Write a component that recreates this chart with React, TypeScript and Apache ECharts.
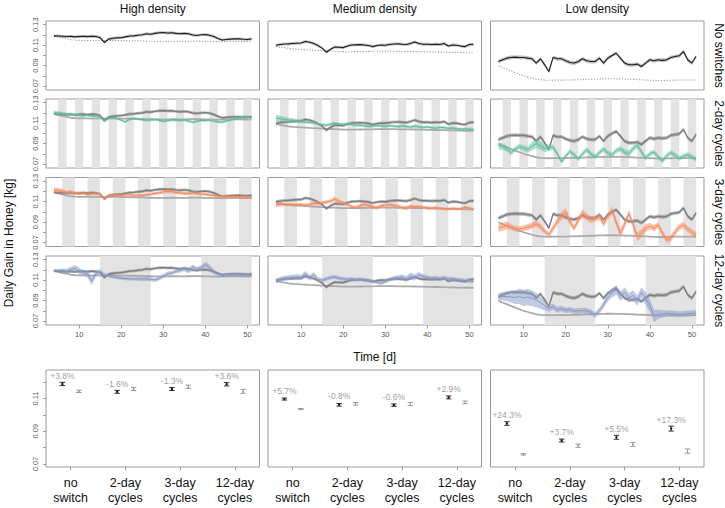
import React, { useEffect, useRef } from "react";
import * as echarts from "echarts";

const FONT = "'Liberation Sans', Arial, Helvetica, sans-serif";

const days = [4, 5, 6, 7, 8, 9, 10, 11, 12, 13, 14, 15, 16, 17, 18, 19, 20, 21, 22, 23, 24, 25, 26, 27,
  28, 29, 30, 31, 32, 33, 34, 35, 36, 37, 38, 39, 40, 41, 42, 43, 44, 45, 46, 47, 48, 49, 50, 51];

const densities = ["High density", "Medium density", "Low density"];
const rowLabels = ["No switches", "2-day cycles", "3-day cycles", "12-day cycles"];
const treatments = ["no\nswitch", "2-day\ncycles", "3-day\ncycles", "12-day\ncycles"];
const xTicks = [10, 20, 30, 40, 50];
const yTicks = [0.07, 0.08, 0.09, 0.1, 0.11, 0.12, 0.13];
const yTickLabels = [0.07, 0.09, 0.11, 0.13];
const sumYTicks = [0.07, 0.08, 0.09, 0.1, 0.11, 0.12];
const sumYTickLabels = [0.07, 0.09, 0.11];

// regime periods (grey stripes), in days
const stripes2 = [[5, 7], [9, 11], [13, 15], [17, 19], [21, 23], [25, 27], [29, 31], [33, 35], [37, 39], [41, 43], [45, 47], [49, 51]];
const stripes3 = [[6, 9], [12, 15], [18, 21], [24, 27], [30, 33], [36, 39], [42, 45], [48, 51]];
const stripes12 = [[15, 27], [39, 51]];

// ---------- High density ----------
const N_high = [
  0.1190, 0.1188, 0.1186, 0.1183, 0.1185, 0.1180, 0.1184, 0.1186,
  0.1182, 0.1186, 0.1184, 0.1172, 0.1125, 0.1158, 0.1166, 0.1170,
  0.1172, 0.1180, 0.1188, 0.1190, 0.1196, 0.1200, 0.1210, 0.1206,
  0.1214, 0.1220, 0.1222, 0.1218, 0.1220, 0.1214, 0.1210, 0.1214,
  0.1210, 0.1198, 0.1194, 0.1200, 0.1202, 0.1196, 0.1184, 0.1165,
  0.1150, 0.1155, 0.1158, 0.1160, 0.1160, 0.1157, 0.1155, 0.1160];
const C_high = [
  0.1192, 0.1180, 0.1170, 0.1160, 0.1152, 0.1148, 0.1146, 0.1145,
  0.1145, 0.1144, 0.1145, 0.1145, 0.1144, 0.1145, 0.1146, 0.1145,
  0.1144, 0.1143, 0.1142, 0.1142, 0.1141, 0.1140, 0.1138, 0.1137,
  0.1136, 0.1136, 0.1135, 0.1136, 0.1137, 0.1137, 0.1136, 0.1136,
  0.1137, 0.1138, 0.1138, 0.1137, 0.1136, 0.1135, 0.1134, 0.1133,
  0.1134, 0.1134, 0.1135, 0.1136, 0.1135, 0.1134, 0.1134, 0.1135];
const G_high = [
  0.1200, 0.1196, 0.1192, 0.1185, 0.1188, 0.1180, 0.1178, 0.1170,
  0.1175, 0.1168, 0.1172, 0.1160, 0.1118, 0.1145, 0.1150, 0.1145,
  0.1128, 0.1112, 0.1138, 0.1145, 0.1140, 0.1132, 0.1128, 0.1130,
  0.1135, 0.1128, 0.1118, 0.1122, 0.1130, 0.1128, 0.1125, 0.1130,
  0.1120, 0.1108, 0.1118, 0.1125, 0.1125, 0.1128, 0.1120, 0.1112,
  0.1108, 0.1120, 0.1130, 0.1140, 0.1150, 0.1158, 0.1162, 0.1155];
const O_high = [
  0.1215, 0.1210, 0.1205, 0.1190, 0.1195, 0.1185, 0.1175, 0.1180,
  0.1168, 0.1175, 0.1178, 0.1170, 0.1135, 0.1158, 0.1165, 0.1162,
  0.1155, 0.1165, 0.1168, 0.1160, 0.1162, 0.1158, 0.1165, 0.1172,
  0.1178, 0.1185, 0.1195, 0.1200, 0.1198, 0.1190, 0.1185, 0.1180,
  0.1178, 0.1185, 0.1180, 0.1172, 0.1170, 0.1165, 0.1160, 0.1150,
  0.1148, 0.1152, 0.1145, 0.1148, 0.1142, 0.1145, 0.1140, 0.1138];
const B_high = [
  0.1195, 0.1192, 0.1195, 0.1185, 0.1200, 0.1215, 0.1190, 0.1170,
  0.1160, 0.1090, 0.1165, 0.1185, 0.1150, 0.1140, 0.1130, 0.1125,
  0.1118, 0.1115, 0.1112, 0.1110, 0.1112, 0.1110, 0.1112, 0.1108,
  0.1100, 0.1115, 0.1140, 0.1160, 0.1170, 0.1185, 0.1195, 0.1210,
  0.1190, 0.1225, 0.1205, 0.1220, 0.1250, 0.1225, 0.1180, 0.1155,
  0.1150, 0.1152, 0.1148, 0.1152, 0.1150, 0.1148, 0.1150, 0.1148];
const G_high_ci = [
  0.0022, 0.0020, 0.0018, 0.0016, 0.0015, 0.0014, 0.0013, 0.0013,
  0.0012, 0.0012, 0.0012, 0.0012, 0.0014, 0.0012, 0.0012, 0.0012,
  0.0012, 0.0013, 0.0012, 0.0012, 0.0012, 0.0012, 0.0012, 0.0012,
  0.0012, 0.0012, 0.0013, 0.0012, 0.0012, 0.0012, 0.0012, 0.0012,
  0.0012, 0.0013, 0.0012, 0.0012, 0.0012, 0.0012, 0.0012, 0.0013,
  0.0012, 0.0012, 0.0013, 0.0013, 0.0014, 0.0015, 0.0015, 0.0014];
const O_high_ci = [
  0.0025, 0.0022, 0.0020, 0.0018, 0.0016, 0.0015, 0.0015, 0.0014,
  0.0014, 0.0014, 0.0014, 0.0014, 0.0015, 0.0014, 0.0014, 0.0014,
  0.0014, 0.0014, 0.0014, 0.0014, 0.0014, 0.0014, 0.0014, 0.0014,
  0.0015, 0.0016, 0.0018, 0.0018, 0.0017, 0.0016, 0.0015, 0.0015,
  0.0015, 0.0016, 0.0015, 0.0015, 0.0015, 0.0014, 0.0014, 0.0014,
  0.0014, 0.0014, 0.0014, 0.0014, 0.0014, 0.0015, 0.0015, 0.0015];
const B_high_ci = [
  0.0012, 0.0014, 0.0018, 0.0025, 0.0030, 0.0032, 0.0030, 0.0028,
  0.0035, 0.0040, 0.0030, 0.0022, 0.0018, 0.0016, 0.0016, 0.0016,
  0.0016, 0.0016, 0.0016, 0.0016, 0.0018, 0.0020, 0.0020, 0.0020,
  0.0020, 0.0020, 0.0022, 0.0022, 0.0020, 0.0020, 0.0022, 0.0024,
  0.0026, 0.0028, 0.0026, 0.0024, 0.0030, 0.0026, 0.0020, 0.0016,
  0.0016, 0.0016, 0.0016, 0.0016, 0.0016, 0.0016, 0.0016, 0.0016];

// ---------- Medium density ----------
const N_med = [
  0.1098, 0.1105, 0.1110, 0.1112, 0.1115, 0.1118, 0.1120, 0.1135,
  0.1128, 0.1115, 0.1095, 0.1070, 0.1030, 0.1060, 0.1080, 0.1078,
  0.1075, 0.1090, 0.1100, 0.1102, 0.1104, 0.1100, 0.1096, 0.1085,
  0.1095, 0.1100, 0.1098, 0.1105, 0.1110, 0.1112, 0.1108, 0.1105,
  0.1115, 0.1130, 0.1115, 0.1108, 0.1108, 0.1105, 0.1108, 0.1106,
  0.1115, 0.1090, 0.1100, 0.1098, 0.1090, 0.1085, 0.1105, 0.1108];
const C_med = [
  0.1090, 0.1082, 0.1075, 0.1068, 0.1063, 0.1060, 0.1057, 0.1055,
  0.1052, 0.1050, 0.1048, 0.1045, 0.1044, 0.1042, 0.1040, 0.1038,
  0.1036, 0.1035, 0.1035, 0.1036, 0.1037, 0.1038, 0.1038, 0.1039,
  0.1040, 0.1040, 0.1041, 0.1040, 0.1040, 0.1039, 0.1039, 0.1038,
  0.1038, 0.1037, 0.1036, 0.1035, 0.1034, 0.1033, 0.1032, 0.1031,
  0.1030, 0.1029, 0.1028, 0.1027, 0.1026, 0.1025, 0.1025, 0.1024];
const G_med = [
  0.1150, 0.1142, 0.1135, 0.1130, 0.1128, 0.1120, 0.1115, 0.1110,
  0.1108, 0.1100, 0.1090, 0.1085, 0.1078, 0.1090, 0.1098, 0.1092,
  0.1085, 0.1095, 0.1088, 0.1078, 0.1080, 0.1072, 0.1068, 0.1070,
  0.1075, 0.1072, 0.1068, 0.1075, 0.1070, 0.1065, 0.1072, 0.1068,
  0.1060, 0.1070, 0.1062, 0.1058, 0.1062, 0.1055, 0.1050, 0.1058,
  0.1055, 0.1048, 0.1052, 0.1045, 0.1040, 0.1045, 0.1038, 0.1040];
const O_med = [
  0.1068, 0.1075, 0.1070, 0.1072, 0.1068, 0.1070, 0.1072, 0.1066,
  0.1070, 0.1085, 0.1080, 0.1090, 0.1095, 0.1105, 0.1125, 0.1100,
  0.1085, 0.1070, 0.1050, 0.1042, 0.1060, 0.1070, 0.1062, 0.1048,
  0.1040, 0.1058, 0.1065, 0.1068, 0.1062, 0.1055, 0.1040, 0.1035,
  0.1055, 0.1048, 0.1050, 0.1045, 0.1038, 0.1035, 0.1040, 0.1032,
  0.1030, 0.1028, 0.1032, 0.1028, 0.1030, 0.1045, 0.1035, 0.1025];
const B_med = [
  0.1088, 0.1108, 0.1118, 0.1125, 0.1128, 0.1130, 0.1125, 0.1160,
  0.1120, 0.1150, 0.1105, 0.1098, 0.1110, 0.1125, 0.1130, 0.1118,
  0.1110, 0.1108, 0.1112, 0.1105, 0.1110, 0.1100, 0.1095, 0.1090,
  0.1078, 0.1070, 0.1085, 0.1105, 0.1120, 0.1125, 0.1130, 0.1110,
  0.1140, 0.1125, 0.1150, 0.1135, 0.1125, 0.1118, 0.1120, 0.1115,
  0.1122, 0.1112, 0.1110, 0.1105, 0.1100, 0.1095, 0.1092, 0.1088];
const G_med_ci = [
  0.0032, 0.0030, 0.0026, 0.0022, 0.0020, 0.0018, 0.0016, 0.0015,
  0.0015, 0.0014, 0.0014, 0.0014, 0.0014, 0.0014, 0.0014, 0.0014,
  0.0014, 0.0014, 0.0014, 0.0013, 0.0013, 0.0013, 0.0013, 0.0013,
  0.0013, 0.0013, 0.0013, 0.0013, 0.0013, 0.0013, 0.0013, 0.0013,
  0.0013, 0.0013, 0.0013, 0.0013, 0.0013, 0.0013, 0.0013, 0.0014,
  0.0014, 0.0014, 0.0014, 0.0014, 0.0014, 0.0015, 0.0015, 0.0015];
const O_med_ci = [
  0.0025, 0.0020, 0.0018, 0.0016, 0.0015, 0.0015, 0.0015, 0.0015,
  0.0016, 0.0018, 0.0018, 0.0016, 0.0016, 0.0018, 0.0025, 0.0022,
  0.0018, 0.0016, 0.0016, 0.0016, 0.0018, 0.0016, 0.0016, 0.0018,
  0.0020, 0.0018, 0.0016, 0.0016, 0.0016, 0.0016, 0.0018, 0.0022,
  0.0018, 0.0016, 0.0016, 0.0015, 0.0015, 0.0015, 0.0015, 0.0015,
  0.0015, 0.0015, 0.0015, 0.0015, 0.0015, 0.0015, 0.0015, 0.0015];
const B_med_ci = [
  0.0020, 0.0022, 0.0024, 0.0025, 0.0025, 0.0026, 0.0026, 0.0028,
  0.0026, 0.0028, 0.0024, 0.0022, 0.0020, 0.0020, 0.0020, 0.0020,
  0.0020, 0.0018, 0.0018, 0.0018, 0.0018, 0.0018, 0.0018, 0.0018,
  0.0018, 0.0018, 0.0018, 0.0020, 0.0020, 0.0022, 0.0024, 0.0030,
  0.0035, 0.0030, 0.0028, 0.0025, 0.0022, 0.0020, 0.0020, 0.0020,
  0.0020, 0.0020, 0.0020, 0.0020, 0.0020, 0.0020, 0.0020, 0.0020];

// ---------- Low density ----------
const N_low = [
  0.0939, 0.0956, 0.0972, 0.0979, 0.0982, 0.0979, 0.0979, 0.0972,
  0.0966, 0.0924, 0.0966, 0.0907, 0.0842, 0.0979, 0.0966, 0.0966,
  0.0946, 0.0930, 0.0924, 0.0939, 0.0966, 0.0946, 0.0939, 0.0939,
  0.0972, 0.0924, 0.0972, 0.0998, 0.1020, 0.0972, 0.0924, 0.0907,
  0.0907, 0.0914, 0.0891, 0.0924, 0.0956, 0.0946, 0.0956, 0.0950,
  0.0956, 0.0979, 0.0988, 0.0995, 0.1037, 0.0956, 0.0924, 0.0988];
const C_low = [
  0.0898, 0.0880, 0.0865, 0.0848, 0.0830, 0.0815, 0.0800, 0.0788,
  0.0776, 0.0766, 0.0760, 0.0757, 0.0756, 0.0757, 0.0758, 0.0757,
  0.0758, 0.0759, 0.0760, 0.0761, 0.0762, 0.0764, 0.0766, 0.0768,
  0.0769, 0.0770, 0.0771, 0.0771, 0.0770, 0.0769, 0.0768, 0.0767,
  0.0765, 0.0763, 0.0761, 0.0759, 0.0757, 0.0755, 0.0754, 0.0754,
  0.0755, 0.0756, 0.0757, 0.0758, 0.0758, 0.0758, 0.0758, 0.0758];
const G_low = [
  0.0880, 0.0868, 0.0850, 0.0810, 0.0845, 0.0870, 0.0855, 0.0840,
  0.0875, 0.0900, 0.0880, 0.0850, 0.0860, 0.0865, 0.0800, 0.0722,
  0.0775, 0.0825, 0.0790, 0.0748, 0.0800, 0.0838, 0.0800, 0.0770,
  0.0812, 0.0845, 0.0810, 0.0788, 0.0830, 0.0848, 0.0815, 0.0800,
  0.0850, 0.0885, 0.0820, 0.0758, 0.0800, 0.0818, 0.0770, 0.0728,
  0.0780, 0.0812, 0.0785, 0.0755, 0.0775, 0.0790, 0.0768, 0.0745];
const O_low = [
  0.0840, 0.0855, 0.0865, 0.0850, 0.0835, 0.0830, 0.0840, 0.0850,
  0.0865, 0.0885, 0.0855, 0.0810, 0.0775, 0.0840, 0.0905, 0.0960,
  0.1000, 0.0900, 0.0840, 0.0920, 0.0984, 0.0950, 0.0919, 0.0935,
  0.0952, 0.0887, 0.0950, 0.1016, 0.0900, 0.0790, 0.0880, 0.0984,
  0.0880, 0.0757, 0.0790, 0.0840, 0.0860, 0.0840, 0.0871, 0.0790,
  0.0725, 0.0740, 0.0800, 0.0850, 0.0871, 0.0830, 0.0800, 0.0773];
const B_low = [
  0.0935, 0.0940, 0.0938, 0.0935, 0.0930, 0.0940, 0.0925, 0.0935,
  0.0920, 0.0905, 0.0880, 0.0850, 0.0825, 0.0838, 0.0810, 0.0820,
  0.0805, 0.0812, 0.0795, 0.0800, 0.0802, 0.0798, 0.0785, 0.0760,
  0.0800, 0.0860, 0.0930, 0.0975, 0.1004, 0.0940, 0.0985, 0.0925,
  0.0950, 0.0900, 0.0980, 0.0920, 0.0850, 0.0750, 0.0765, 0.0770,
  0.0775, 0.0772, 0.0770, 0.0765, 0.0768, 0.0772, 0.0775, 0.0778];
const G_low_ci = [
  0.0035, 0.0032, 0.0028, 0.0025, 0.0025, 0.0025, 0.0028, 0.0030,
  0.0040, 0.0045, 0.0040, 0.0035, 0.0030, 0.0028, 0.0025, 0.0022,
  0.0022, 0.0022, 0.0022, 0.0022, 0.0024, 0.0024, 0.0024, 0.0024,
  0.0024, 0.0025, 0.0025, 0.0025, 0.0026, 0.0028, 0.0030, 0.0030,
  0.0028, 0.0030, 0.0026, 0.0024, 0.0024, 0.0024, 0.0024, 0.0024,
  0.0024, 0.0024, 0.0024, 0.0024, 0.0024, 0.0024, 0.0024, 0.0024];
const O_low_ci = [
  0.0035, 0.0040, 0.0035, 0.0030, 0.0028, 0.0028, 0.0028, 0.0030,
  0.0030, 0.0030, 0.0030, 0.0028, 0.0026, 0.0030, 0.0035, 0.0040,
  0.0040, 0.0035, 0.0030, 0.0035, 0.0040, 0.0035, 0.0032, 0.0030,
  0.0030, 0.0030, 0.0030, 0.0035, 0.0040, 0.0040, 0.0035, 0.0032,
  0.0035, 0.0040, 0.0040, 0.0035, 0.0032, 0.0030, 0.0030, 0.0030,
  0.0030, 0.0030, 0.0032, 0.0030, 0.0030, 0.0030, 0.0030, 0.0030];
const B_low_ci = [
  0.0035, 0.0040, 0.0045, 0.0055, 0.0065, 0.0075, 0.0080, 0.0080,
  0.0075, 0.0070, 0.0060, 0.0045, 0.0035, 0.0030, 0.0030, 0.0028,
  0.0028, 0.0028, 0.0028, 0.0028, 0.0028, 0.0028, 0.0028, 0.0028,
  0.0030, 0.0035, 0.0040, 0.0045, 0.0045, 0.0045, 0.0045, 0.0045,
  0.0050, 0.0050, 0.0050, 0.0060, 0.0065, 0.0060, 0.0045, 0.0035,
  0.0030, 0.0030, 0.0030, 0.0030, 0.0030, 0.0030, 0.0030, 0.0030];

const noSwitchCI = [0.0014, 0.0014, 0.0018];

// ---------- Summary (bottom row) ----------
const sumSwitched = [
  [0.1188, 0.1140, 0.1157, 0.1186],
  [0.1096, 0.1061, 0.1059, 0.1106],
  [0.0947, 0.0843, 0.0863, 0.0916]];
const sumSwitchedErr = [
  [0.0010, 0.0009, 0.0009, 0.0010],
  [0.0006, 0.0008, 0.0007, 0.0009],
  [0.0011, 0.0009, 0.0012, 0.0015]];
const sumControl = [
  [0.1143, 0.1157, 0.1171, 0.1143],
  [0.1035, 0.1067, 0.1065, 0.1076],
  [0.0759, 0.0812, 0.0820, 0.0779]];
const sumControlErr = [
  [0.0007, 0.0009, 0.0010, 0.0012],
  [0.0003, 0.0008, 0.0009, 0.0008],
  [0.0004, 0.0010, 0.0012, 0.0013]];
const pctLabels = [
  ["+3.8%", "-1.6%", "-1.3%", "+3.6%"],
  ["+5.7%", "-0.8%", "-0.6%", "+2.9%"],
  ["+24.3%", "+3.7%", "+5.5%", "+17.3%"]];

const noSwitch = [N_high, N_med, N_low];
const control = [C_high, C_med, C_low];
const cycled = [[G_high, O_high, B_high], [G_med, O_med, B_med], [G_low, O_low, B_low]];
const cycledCI = [[G_high_ci, O_high_ci, B_high_ci], [G_med_ci, O_med_ci, B_med_ci], [G_low_ci, O_low_ci, B_low_ci]];
const stripeSets = [stripes2, stripes3, stripes12];
const cycleColors = ["#5dbb9c", "#f7865a", "#8497c8"];
const cycleBands = ["rgba(102,194,165,0.55)", "rgba(252,141,98,0.55)", "rgba(141,160,203,0.55)"];

// ---------- layout ----------
const colLeft = [46, 268, 490.5];
const panelW = 213.5;
const rowTop = [21, 99, 177.5, 256];
const panelH = 69;
const sumTop = 370;
const sumH = 97;
const X_MIN = 2.12, X_MAX = 52.88;
const Y_MIN = 0.0661, Y_MAX = 0.1335;
const SY_MIN = 0.0682, SY_MAX = 0.1273;
const SX_MIN = 0.55, SX_MAX = 4.45;
const OFFSET = 0.15;

function bandSeries(idx: number, vals: number[], ci: number[] | number, fill: string, z: number) {
  return {
    type: "custom", xAxisIndex: idx, yAxisIndex: idx, silent: true, z,
    data: [[days[0], vals[0]]],
    renderItem: (_p: any, api: any) => {
      const half = (i: number) => (Array.isArray(ci) ? ci[i] : ci);
      const up = days.map((d, i) => api.coord([d, vals[i] + half(i)]));
      const lo = days.map((d, i) => api.coord([d, vals[i] - half(i)])).reverse();
      return { type: "polygon", shape: { points: up.concat(lo) }, style: { fill } };
    },
  };
}

function lineSeries(idx: number, vals: number[], color: string, width: number, z: number, dash?: any) {
  return {
    type: "line", xAxisIndex: idx, yAxisIndex: idx, silent: true, z,
    data: days.map((d, i) => [d, vals[i]]),
    showSymbol: false, symbol: "none",
    lineStyle: { color, width, type: dash || "solid" },
  };
}

function stripeSeries(idx: number, stripes: number[][]) {
  return {
    type: "custom", xAxisIndex: idx, yAxisIndex: idx, silent: true, z: 1,
    data: stripes.map((s) => [s[0], s[1]]),
    renderItem: (params: any, api: any) => {
      const cs = params.coordSys;
      const a = api.coord([api.value(0), Y_MIN]);
      const b = api.coord([api.value(1), Y_MIN]);
      return { type: "rect", shape: { x: a[0], y: cs.y, width: b[0] - a[0], height: cs.height }, style: { fill: "#e3e3e3" } };
    },
  };
}

function errorSeries(idx: number, c: number, vals: number[], errs: number[], isSwitched: boolean) {
  const col = isSwitched ? "#1a1a1a" : "#8c8c8c";
  return {
    type: "custom", xAxisIndex: idx, yAxisIndex: idx, silent: true, z: 5,
    data: vals.map((v, i) => [i + 1 + (isSwitched ? -OFFSET : OFFSET), v, errs[i]]),
    renderItem: (params: any, api: any) => {
      const x = api.value(0), m = api.value(1), h = api.value(2);
      const p = api.coord([x, m]);
      const t = api.coord([x, m + h]);
      const b = api.coord([x, m - h]);
      const w = 2.7;
      const st = { stroke: col, lineWidth: 0.9 };
      const children: any[] = [
        { type: "line", shape: { x1: p[0], y1: t[1], x2: p[0], y2: b[1] }, style: st },
        { type: "line", shape: { x1: p[0] - w, y1: t[1], x2: p[0] + w, y2: t[1] }, style: st },
        { type: "line", shape: { x1: p[0] - w, y1: b[1], x2: p[0] + w, y2: b[1] }, style: st },
        { type: "circle", shape: { cx: p[0], cy: p[1], r: isSwitched ? 1.2 : 0.7 }, style: { fill: col } },
      ];
      if (isSwitched) {
        children.push({
          type: "text", x: p[0], y: p[1] - 8.3,
          style: { text: pctLabels[c][params.dataIndex], align: "center", verticalAlign: "middle", fill: "#a0a0a0", fontSize: 8.5, fontFamily: FONT },
        });
      }
      return { type: "group", children };
    },
  };
}

function buildOption() {
  const grid: any[] = [], xAxis: any[] = [], yAxis: any[] = [], series: any[] = [];
  let idx = 0;
  const tickStyle = { color: "#8a8a8a", width: 0.8 };
  for (let c = 0; c < 3; c++) {
    for (let r = 0; r < 4; r++) {
      grid.push({ left: colLeft[c], top: rowTop[r], width: panelW, height: panelH, show: true, borderColor: "#9a9a9a", borderWidth: 1, backgroundColor: "transparent" });
      xAxis.push({
        gridIndex: idx, type: "value", min: X_MIN, max: X_MAX,
        axisLine: { show: false }, splitLine: { show: false },
        axisTick: { show: r === 3, customValues: xTicks, length: 3.5, lineStyle: tickStyle },
        axisLabel: { show: r === 3, customValues: xTicks, fontSize: 7.5, color: "#555", margin: 5.5, fontFamily: FONT, formatter: (v: number) => String(v) },
      });
      yAxis.push({
        gridIndex: idx, type: "value", min: Y_MIN, max: Y_MAX,
        axisLine: { show: false }, splitLine: { show: false },
        axisTick: { show: c === 0, customValues: yTicks, length: 3, lineStyle: tickStyle },
        axisLabel: { show: c === 0, customValues: yTickLabels, rotate: 90, fontSize: 7.5, color: "#555", margin: 7, fontFamily: FONT, formatter: (v: number) => v.toFixed(2) },
      });
      if (r === 0) {
        series.push(lineSeries(idx, control[c], "#9a9a9a", 1.1, 2, [1.2, 1.6]));
        series.push(bandSeries(idx, noSwitch[c], noSwitchCI[c], "rgba(140,140,140,0.55)", 3));
        series.push(lineSeries(idx, noSwitch[c], "#1e1e1e", 1.1, 4));
      } else {
        series.push(stripeSeries(idx, stripeSets[r - 1]));
        series.push(lineSeries(idx, control[c], "#ababab", 1.8, 2));
        series.push(bandSeries(idx, noSwitch[c], noSwitchCI[c], "rgba(120,120,120,0.5)", 3));
        series.push(lineSeries(idx, noSwitch[c], "#7d7d7d", 1.3, 4));
        series.push(bandSeries(idx, cycled[c][r - 1], cycledCI[c][r - 1], cycleBands[r - 1], 5));
        series.push(lineSeries(idx, cycled[c][r - 1], cycleColors[r - 1], 1, 6));
      }
      idx++;
    }
  }
  for (let c = 0; c < 3; c++) {
    grid.push({ left: colLeft[c], top: sumTop, width: panelW, height: sumH, show: true, borderColor: "#9a9a9a", borderWidth: 1, backgroundColor: "transparent" });
    xAxis.push({
      gridIndex: idx, type: "value", min: SX_MIN, max: SX_MAX,
      axisLine: { show: false }, splitLine: { show: false },
      axisTick: { show: true, customValues: [1, 2, 3, 4], length: 3.5, lineStyle: tickStyle },
      axisLabel: { show: true, customValues: [1, 2, 3, 4], fontSize: 12.5, lineHeight: 15, color: "#111", margin: 8, fontFamily: FONT, formatter: (v: number) => treatments[Math.round(v) - 1] },
    });
    yAxis.push({
      gridIndex: idx, type: "value", min: SY_MIN, max: SY_MAX,
      axisLine: { show: false }, splitLine: { show: false },
      axisTick: { show: c === 0, customValues: sumYTicks, length: 3, lineStyle: tickStyle },
      axisLabel: { show: c === 0, customValues: sumYTickLabels, rotate: 90, fontSize: 7.5, color: "#555", margin: 7, fontFamily: FONT, formatter: (v: number) => v.toFixed(2) },
    });
    series.push(errorSeries(idx, c, sumControl[c], sumControlErr[c], false));
    series.push(errorSeries(idx, c, sumSwitched[c], sumSwitchedErr[c], true));
    idx++;
  }

  const graphic: any[] = [];
  const titleStyle = { fontSize: 12, fill: "#111", fontFamily: FONT, align: "center", verticalAlign: "middle" };
  densities.forEach((t, c) => {
    graphic.push({ type: "text", x: colLeft[c] + panelW / 2, y: 8.5, style: { ...titleStyle, text: t } });
  });
  rowLabels.forEach((t, r) => {
    graphic.push({ type: "text", x: 719, y: rowTop[r] + panelH / 2, rotation: -Math.PI / 2, style: { ...titleStyle, text: t } });
  });
  graphic.push({ type: "text", x: 9, y: 243, rotation: Math.PI / 2, style: { ...titleStyle, text: "Daily Gain in Honey [kg]" } });
  graphic.push({ type: "text", x: colLeft[1] + panelW / 2, y: 357, style: { ...titleStyle, text: "Time [d]" } });

  return {
    animation: false,
    backgroundColor: "#ffffff",
    textStyle: { fontFamily: FONT },
    grid, xAxis, yAxis, series, graphic,
  };
}

export default function App() {
  const ref = useRef<HTMLDivElement>(null);
  useEffect(() => {
    if (!ref.current) return;
    const chart = echarts.init(ref.current, undefined, { renderer: "svg" });
    chart.setOption(buildOption() as any);
    return () => chart.dispose();
  }, []);
  return <div ref={ref} style={{ position: "absolute", left: 0, top: 0, width: 725, height: 508 }} />;
}
